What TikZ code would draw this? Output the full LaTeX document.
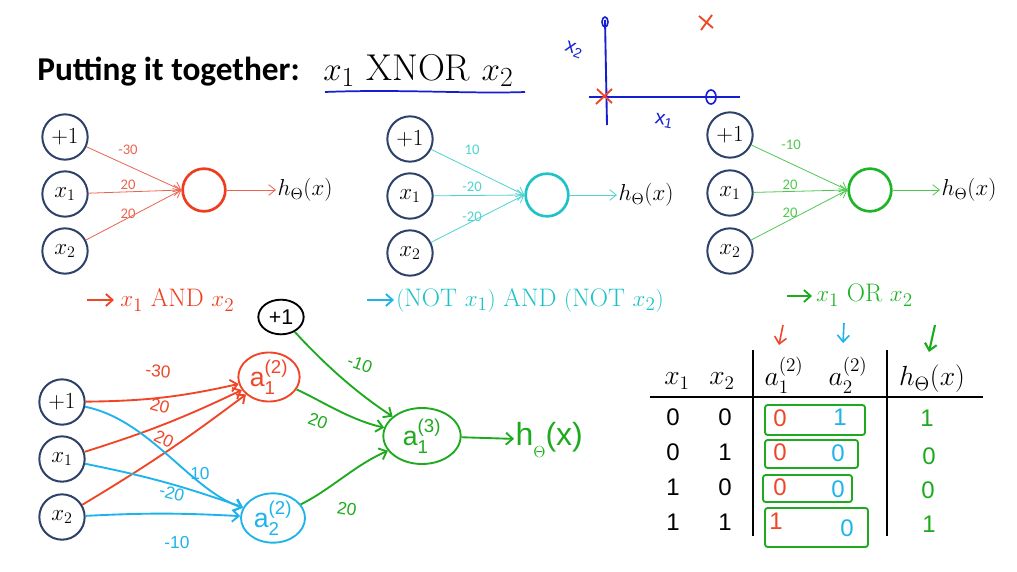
\documentclass[tikz,border=0pt]{standalone}
\usepackage{fontspec}
\usepackage{amsmath}
\usetikzlibrary{arrows.meta,shapes.geometric}
\newfontfamily\carl{Carlito}
\newfontfamily\hwf{Liberation Sans}
\definecolor{navy}{RGB}{45,65,105}
\definecolor{redE}{RGB}{235,100,80}
\definecolor{redC}{RGB}{240,60,30}
\definecolor{redH}{RGB}{240,70,40}
\definecolor{cyanE}{RGB}{80,210,210}
\definecolor{cyanC}{RGB}{30,195,200}
\definecolor{cyanH}{RGB}{30,180,235}
\definecolor{greenE}{RGB}{80,200,80}
\definecolor{greenC}{RGB}{30,180,40}
\definecolor{greenH}{RGB}{30,170,30}
\definecolor{blueS}{RGB}{20,30,210}
\begin{document}
\begin{tikzpicture}[x=0.75pt,y=-0.75pt,
  inp/.style={circle,draw=navy,line width=1.5pt,minimum size=34pt,inner sep=0pt,font=\fontsize{16.5}{16.5}\selectfont},
  outc/.style={circle,line width=2pt,minimum size=32pt,inner sep=0pt},
  wt/.style={font=\carl\fontsize{11}{11}\selectfont,inner sep=1pt},
  thinarrow/.style={line width=0.6pt,-{Straight Barb[length=5pt,width=8pt]}},
  hout/.style={font=\fontsize{18.5}{18.5}\selectfont,inner sep=1pt,anchor=west},
  lab/.style={font=\fontsize{19}{19}\selectfont,anchor=west,inner sep=0pt},
  handarrow/.style={line width=1.4pt,-{Straight Barb[length=5pt,width=9pt]}},
  hw/.style={font=\hwf\fontsize{13}{13}\selectfont,inner sep=0pt},
  hnode/.style={ellipse,line width=1.4pt,inner sep=0pt,font=\hwf\fontsize{20}{20}\selectfont},
  tabtxt/.style={font=\fontsize{21}{21}\selectfont,inner sep=0pt},
  digit/.style={font=\hwf\fontsize{18}{18}\selectfont,inner sep=0pt},
  box/.style={draw=greenH,line width=1.4pt,rounded corners=2pt}]
\useasboundingbox (0,0) rectangle (1017,571);
\fill[white] (0,0) rectangle (1017,571);

% ---------- title ----------
\node[anchor=base west,inner sep=0pt,font=\carl\bfseries\fontsize{25}{25}\selectfont] (title) at (37,80) {Putting it together:};
\node[anchor=base west,inner sep=0pt,font=\fontsize{28}{28}\selectfont] (titlemath) at (323,80) {$x_1\ \mathrm{XNOR}\ x_2$};
\draw[blueS,line width=1.3pt] (325,92) .. controls (400,89) and (470,94) .. (525,92);

% ---------- sketch ----------
\draw[blueS,line width=1.4pt] (605,20) -- (607,125);
\draw[blueS,line width=1.4pt] (589,97) -- (740,97);
\draw[blueS,line width=1.2pt] (605,22) ellipse (3 and 5);
\draw[blueS,line width=1.2pt] (711,97) ellipse (5 and 7);
\draw[redH,line width=1.4pt] (597,89) -- (612,103) (612,89) -- (596,104);
\draw[redH,line width=1.4pt] (699,16) -- (713,28) (712,15) -- (701,30);
\node[font=\hwf\fontsize{15}{15}\selectfont,inner sep=0pt,blueS,rotate=-20] (sx2) at (574,50) {x\textsubscript{2}};
\node[font=\hwf\fontsize{15}{15}\selectfont,inner sep=0pt,blueS,rotate=-10] (sx1) at (664,121) {x\textsubscript{1}};

% ---------- top-left network (AND) ----------
\node[inp] (L0) at (65,137) {$+1$};
\node[inp] (L1) at (65,194) {$x_1$};
\node[inp] (L2) at (65,251) {$x_2$};
\node[outc,draw=redC] (Lo) at (204,190) {};
\node[hout] (Lh) at (276,190) {$h_\Theta(x)$};
\foreach \n in {L0,L1,L2} \draw[thinarrow,redE] (\n) -- (Lo.west);
\draw[thinarrow,redE] (Lo) -- (Lh);
\node[wt,redE] (Lw0) at (128,150) {-30};
\node[wt,redE] (Lw1) at (128,185) {20};
\node[wt,redE] (Lw2) at (128,214) {20};
\draw[handarrow,redH] (87,300) -- (114,300);
\node[lab,redC] (Llab) at (120,300) {$x_1\ \mathrm{AND}\ x_2$};

% ---------- middle network ----------
\node[inp] (M0) at (410,139) {$+1$};
\node[inp] (M1) at (410,196) {$x_1$};
\node[inp] (M2) at (410,253) {$x_2$};
\node[outc,draw=cyanC] (Mo) at (547,195) {};
\node[hout] (Mh) at (617,195) {$h_\Theta(x)$};
\foreach \n in {M0,M1,M2} \draw[thinarrow,cyanE] (\n) -- (Mo.west);
\draw[thinarrow,cyanE] (Mo) -- (Mh);
\node[wt,cyanE] (Mw0) at (472,150) {10};
\node[wt,cyanE] (Mw1) at (472,187) {-20};
\node[wt,cyanE] (Mw2) at (472,217) {-20};
\draw[handarrow,cyanH] (367,300) -- (394,300);
\node[lab,cyanC] (Mlab) at (396,300) {$(\mathrm{NOT}\ x_1)\ \mathrm{AND}\ (\mathrm{NOT}\ x_2)$};

% ---------- right network (OR) ----------
\node[inp] (R0) at (730,135) {$+1$};
\node[inp] (R1) at (730,193) {$x_1$};
\node[inp] (R2) at (730,251) {$x_2$};
\node[outc,draw=greenC] (Ro) at (870,190) {};
\node[hout] (Rh) at (940,190) {$h_\Theta(x)$};
\foreach \n in {R0,R1,R2} \draw[thinarrow,greenE] (\n) -- (Ro.west);
\draw[thinarrow,greenE] (Ro) -- (Rh);
\node[wt,greenE] (Rw0) at (791,145) {-10};
\node[wt,greenE] (Rw1) at (790,185) {20};
\node[wt,greenE] (Rw2) at (790,213) {20};
\draw[handarrow,greenH] (787,296) -- (812,296);
\node[lab,greenC] (Rlab) at (816,295) {$x_1\ \mathrm{OR}\ x_2$};

% ---------- bottom network ----------
\node[inp] (B0) at (62,402) {$+1$};
\node[inp] (B1) at (62,459) {$x_1$};
\node[inp] (B2) at (62,517) {$x_2$};
\node[hnode,draw=redH,text=redH,minimum width=46pt,minimum height=33pt] (A1) at (269,377) {a$^{\text{(2)}}_{\text{1}}$};
\node[hnode,draw=cyanH,text=cyanH,minimum width=48pt,minimum height=37pt] (A2) at (273,518) {a$^{\text{(2)}}_{\text{2}}$};
\node[hnode,draw=black,text=black,minimum width=34pt,minimum height=26pt,font=\hwf\fontsize{16}{16}\selectfont] (BB) at (281,317) {+1};
\node[hnode,draw=greenH,text=greenH,minimum width=58pt,minimum height=42pt] (A3) at (422,436) {a$^{\text{(3)}}_{\text{1}}$};
\node[anchor=west,inner sep=1pt,font=\hwf\fontsize{24}{24}\selectfont,greenH] (Bh) at (514,440) {h\raisebox{-0.7ex}{\fontsize{12}{12}\selectfont $\Theta$}(x)};

\draw[handarrow,redH] (B0) to[bend right=6] (A1);
\draw[handarrow,redH] (B1) to[bend right=4] (A1);
\draw[handarrow,redH] (B2) to[bend right=3] (A1);
\draw[handarrow,cyanH] (B0) .. controls (150,420) and (190,490) .. (A2);
\draw[handarrow,cyanH] (B1) to[bend left=4] (A2);
\draw[handarrow,cyanH] (B2) to[bend left=3] (A2);
\draw[handarrow,greenH] (BB) .. controls (330,370) and (360,395) .. (A3);
\draw[handarrow,greenH] (A1) .. controls (320,400) and (350,420) .. (A3);
\draw[handarrow,greenH] (A2) .. controls (330,490) and (355,465) .. (A3);
\draw[handarrow,greenH] (A3) -- (Bh);

\node[hw,redH,rotate=-5] (bw1) at (158,371) {-30};
\node[hw,redH,rotate=-15] (bw2) at (160,406) {20};
\node[hw,redH,rotate=-25] (bw3) at (164,439) {20};
\node[hw,cyanH] (bw4) at (200,474) {10};
\node[hw,cyanH,rotate=-15] (bw5) at (172,493) {-20};
\node[hw,cyanH] (bw6) at (177,543) {-10};
\node[hw,greenH,rotate=-20] (bw7) at (360,364) {-10};
\node[hw,greenH,rotate=-20] (bw8) at (318,421) {20};
\node[hw,greenH,rotate=-10] (bw9) at (347,509) {20};

% ---------- table ----------
\draw[line width=1pt] (753,350) -- (753,536);
\draw[line width=1pt] (887,350) -- (887,536);
\draw[line width=1pt] (650,397) -- (983,397);
\node[tabtxt] (tx1) at (677,381) {$x_1$};
\node[tabtxt] (tx2) at (722,381) {$x_2$};
\node[tabtxt] (ta1) at (784,375) {$a_1^{(2)}$};
\node[tabtxt] (ta2) at (848,375) {$a_2^{(2)}$};
\node[tabtxt] (th) at (932,379) {$h_\Theta(x)$};

\draw[handarrow,redH,line width=1.2pt] (783,325) -- (779,345);
\draw[handarrow,cyanH,line width=1.2pt] (844,323) -- (843,343);
\draw[handarrow,greenH,line width=1.6pt] (935,325) -- (929,352);

\foreach \y/\a/\b in {417/0/0,452/0/1,487/1/0,522/1/1}{
  \node[digit] at (673,\y) {\a};
  \node[digit] at (725,\y) {\b};
}
\draw[box] (765,405) rectangle (865,435);
\draw[box] (765,440) rectangle (858,468);
\draw[box] (763,475) rectangle (852,502);
\draw[box] (765,508) rectangle (868,547);
\node[digit,redH] (r1) at (780,418) {0};
\node[digit,redH] (r2) at (780,452) {0};
\node[digit,redH] (r3) at (780,487) {0};
\node[digit,redH] (r4) at (776,521) {1};
\node[digit,cyanH] (c1) at (840,417) {1};
\node[digit,cyanH] (c2) at (838,453) {0};
\node[digit,cyanH] (c3) at (838,489) {0};
\node[digit,cyanH] (c4) at (847,528) {0};
\node[digit,greenH] (g1) at (927,418) {1};
\node[digit,greenH] (g2) at (929,456) {0};
\node[digit,greenH] (g3) at (928,490) {0};
\node[digit,greenH] (g4) at (929,524) {1};
\end{tikzpicture}
\end{document}
